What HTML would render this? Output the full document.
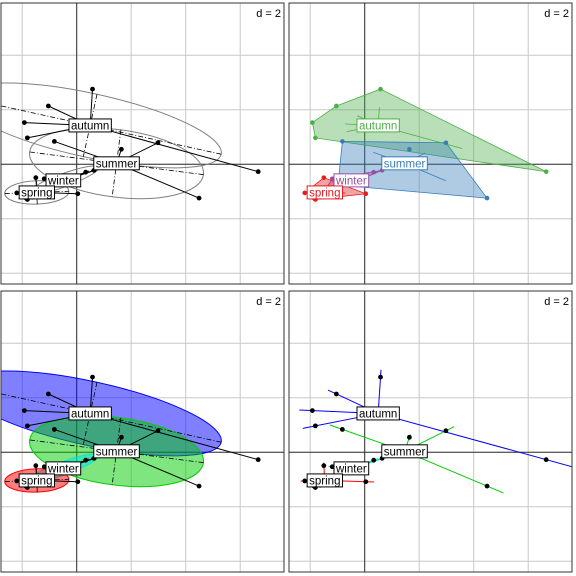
<!DOCTYPE html>
<html><head><meta charset="utf-8"><style>
body{margin:0;background:#fff;width:576px;height:576px;overflow:hidden}
svg{display:block;font-family:"Liberation Sans",sans-serif}
</style></head><body>
<svg id="c" width="576" height="576" xmlns="http://www.w3.org/2000/svg"></svg>
<script>
const groups = ["autumn","summer","winter","spring"];
const autumnX = [0.58,-1.04,-1.92,-1.81,6.66];
const autumnY = [2.76,2.14,1.53,0.97,-0.27];
const summerX = [-0.82,1.64,2.98,4.49,-0.98];
const summerY = [0.84,0.55,0.79,-1.24,-0.76];
const winterX = [-1.19,0.33,0.64,-0.60,-1.63];
const winterY = [-0.53,-0.29,-0.22,-0.70,-1.21];
const springX = [-1.50,-1.81,0.04,-1.85,-2.20];
const springY = [-0.49,-1.29,-1.08,-1.25,-1.05];
const gridTicks = [-4,-2,0,2,4,6];
const dLabel = "d = 2";

const XS=[autumnX,summerX,winterX,springX], YS=[autumnY,summerY,winterY,springY];
const NS="http://www.w3.org/2000/svg", svg=document.getElementById('c');
const S=27.25;
function el(t,a,p){const e=document.createElementNS(NS,t);for(const k in a)e.setAttribute(k,a[k]);(p||svg).appendChild(e);return e;}
const panels=[{x:1,y:3},{x:289,y:3},{x:1,y:291},{x:289,y:291}];
const W=283,H=281;
const hullCols=["#4daf4a","#377eb8","#984ea3","#e41a1c"];
const ellCols=["#0000ff","#00cc00","#00e5e5","#ff0000"];
function stats(xs,ys){const n=xs.length;let mx=0,my=0;xs.forEach((v,i)=>{mx+=v/n;my+=ys[i]/n});
 let a=0,b=0,c=0;xs.forEach((v,i)=>{a+=(v-mx)**2/n;b+=(v-mx)*(ys[i]-my)/n;c+=(ys[i]-my)**2/n});
 const tr=(a+c)/2,dt=Math.sqrt(((a-c)/2)**2+b*b),l1=tr+dt,l2=Math.max(tr-dt,0);
 const th=Math.atan2(l1-a,b||1e-9);return{mx,my,r1:1.5*Math.sqrt(l1),r2:1.5*Math.sqrt(l2),th};}
function hull(pts){pts=pts.slice().sort((p,q)=>p[0]-q[0]||p[1]-q[1]);const cr=(o,a,b)=>(a[0]-o[0])*(b[1]-o[1])-(a[1]-o[1])*(b[0]-o[0]);
 const lo=[],up=[];for(const p of pts){while(lo.length>=2&&cr(lo[lo.length-2],lo[lo.length-1],p)<=0)lo.pop();lo.push(p);}
 for(const p of pts.slice().reverse()){while(up.length>=2&&cr(up[up.length-2],up[up.length-1],p)<=0)up.pop();up.push(p);}
 return lo.slice(0,-1).concat(up.slice(0,-1));}
panels.forEach((P,pi)=>{
 const g=el('g',{});
 
 
 const cid='clip'+pi;const cp=el('clipPath',{id:cid},g);el('rect',{x:P.x,y:P.y,width:W,height:H},cp);
 const ox=P.x+75.7, oy=P.y+161.3;
 const sx=v=>ox+v*S, sy=v=>oy-v*S;
 const inner=el('g',{'clip-path':'url(#'+cid+')'},g);
 gridTicks.forEach(t=>{
  const l1=el('line',{x1:sx(t),x2:sx(t),y1:P.y,y2:P.y+H,stroke:'#c8c8c8','stroke-width':1},inner);
  
  
  const l2=el('line',{y1:sy(t),y2:sy(t),x1:P.x,x2:P.x+W,stroke:'#c8c8c8','stroke-width':1},inner);
  
  
 });
 el('line',{x1:sx(0),x2:sx(0),y1:P.y,y2:P.y+H,stroke:'#333','stroke-width':1},inner);
 el('line',{y1:sy(0),y2:sy(0),x1:P.x,x2:P.x+W,stroke:'#333','stroke-width':1},inner);
 const st=groups.map((n,i)=>stats(XS[i],YS[i]));
 groups.forEach((n,i)=>{
  const s=st[i];
  if(pi===0||pi===2){
   const e=el('ellipse',{cx:0,cy:0,rx:s.r1*S,ry:s.r2*S,transform:`translate(${sx(s.mx)},${sy(s.my)}) rotate(${-s.th*180/Math.PI})`,
    fill:pi===2?ellCols[i]:'none','fill-opacity':0.5,stroke:pi===2?ellCols[i]:'#808080','stroke-width':1},inner);
   
   
  }
  if(pi===1){
   const h=hull(XS[i].map((v,k)=>[v,YS[i][k]]));
   const p=el('polygon',{points:h.map(q=>sx(q[0])+','+sy(q[1])).join(' '),fill:hullCols[i],'fill-opacity':0.4,stroke:hullCols[i],'stroke-width':0.8},inner);
   
   
  }
 });
 groups.forEach((n,i)=>{
  const s=st[i];
  if(pi===0||pi===2){
   const c=Math.cos(s.th),sn=Math.sin(s.th);
   [[s.r1*c,s.r1*sn],[-s.r2*sn,s.r2*c]].forEach(v=>{
    el('line',{x1:sx(s.mx-v[0]),y1:sy(s.my-v[1]),x2:sx(s.mx+v[0]),y2:sy(s.my+v[1]),stroke:'#000','stroke-width':0.8,'stroke-dasharray':'5,2,1,2'},inner);
   });
  }
  XS[i].forEach((x,k)=>{
   const y=YS[i][k];let f=1,col='#000';
   if(pi===1){f=0.5;col=hullCols[i];}
   if(pi===3){f=1.2;col=ellCols[i];}
   const ln=el('line',{x1:sx(s.mx),y1:sy(s.my),x2:sx(s.mx+f*(x-s.mx)),y2:sy(s.my+f*(y-s.my)),stroke:col,'stroke-width':pi===1?0.8:1},inner);
   
   
  });
 });
 groups.forEach((n,i)=>{XS[i].forEach((x,k)=>{
  const d=el('circle',{cx:sx(x),cy:sy(YS[i][k]),r:pi===1?2.3:2.4,fill:pi===1?hullCols[i]:'#000'},inner);
  
  
 });});
 groups.forEach((n,i)=>{
  const s=st[i];
  const col=pi===1?hullCols[i]:'#000';
  const lg=el('g',{},inner);
  
  
  const r=el('rect',{x:0,y:sy(s.my)-6.5,width:10,height:13,fill:'#fff',stroke:col,'stroke-width':1},lg);
  const t=el('text',{x:sx(s.mx),y:sy(s.my)+4,'text-anchor':'middle','font-size':11.5,fill:col},lg);t.textContent=n;
  const w=t.getComputedTextLength()+4;
  r.setAttribute('x',sx(s.mx)-w/2);r.setAttribute('width',w);
 });
 const dl=el('text',{x:P.x+W-3,y:P.y+14,'text-anchor':'end','font-size':11,fill:'#000'},g);dl.textContent=dLabel;
 
 
 el('rect',{x:P.x,y:P.y,width:W,height:H,fill:'none',stroke:'#333','stroke-width':1},g);
});
</script>
</body></html>
